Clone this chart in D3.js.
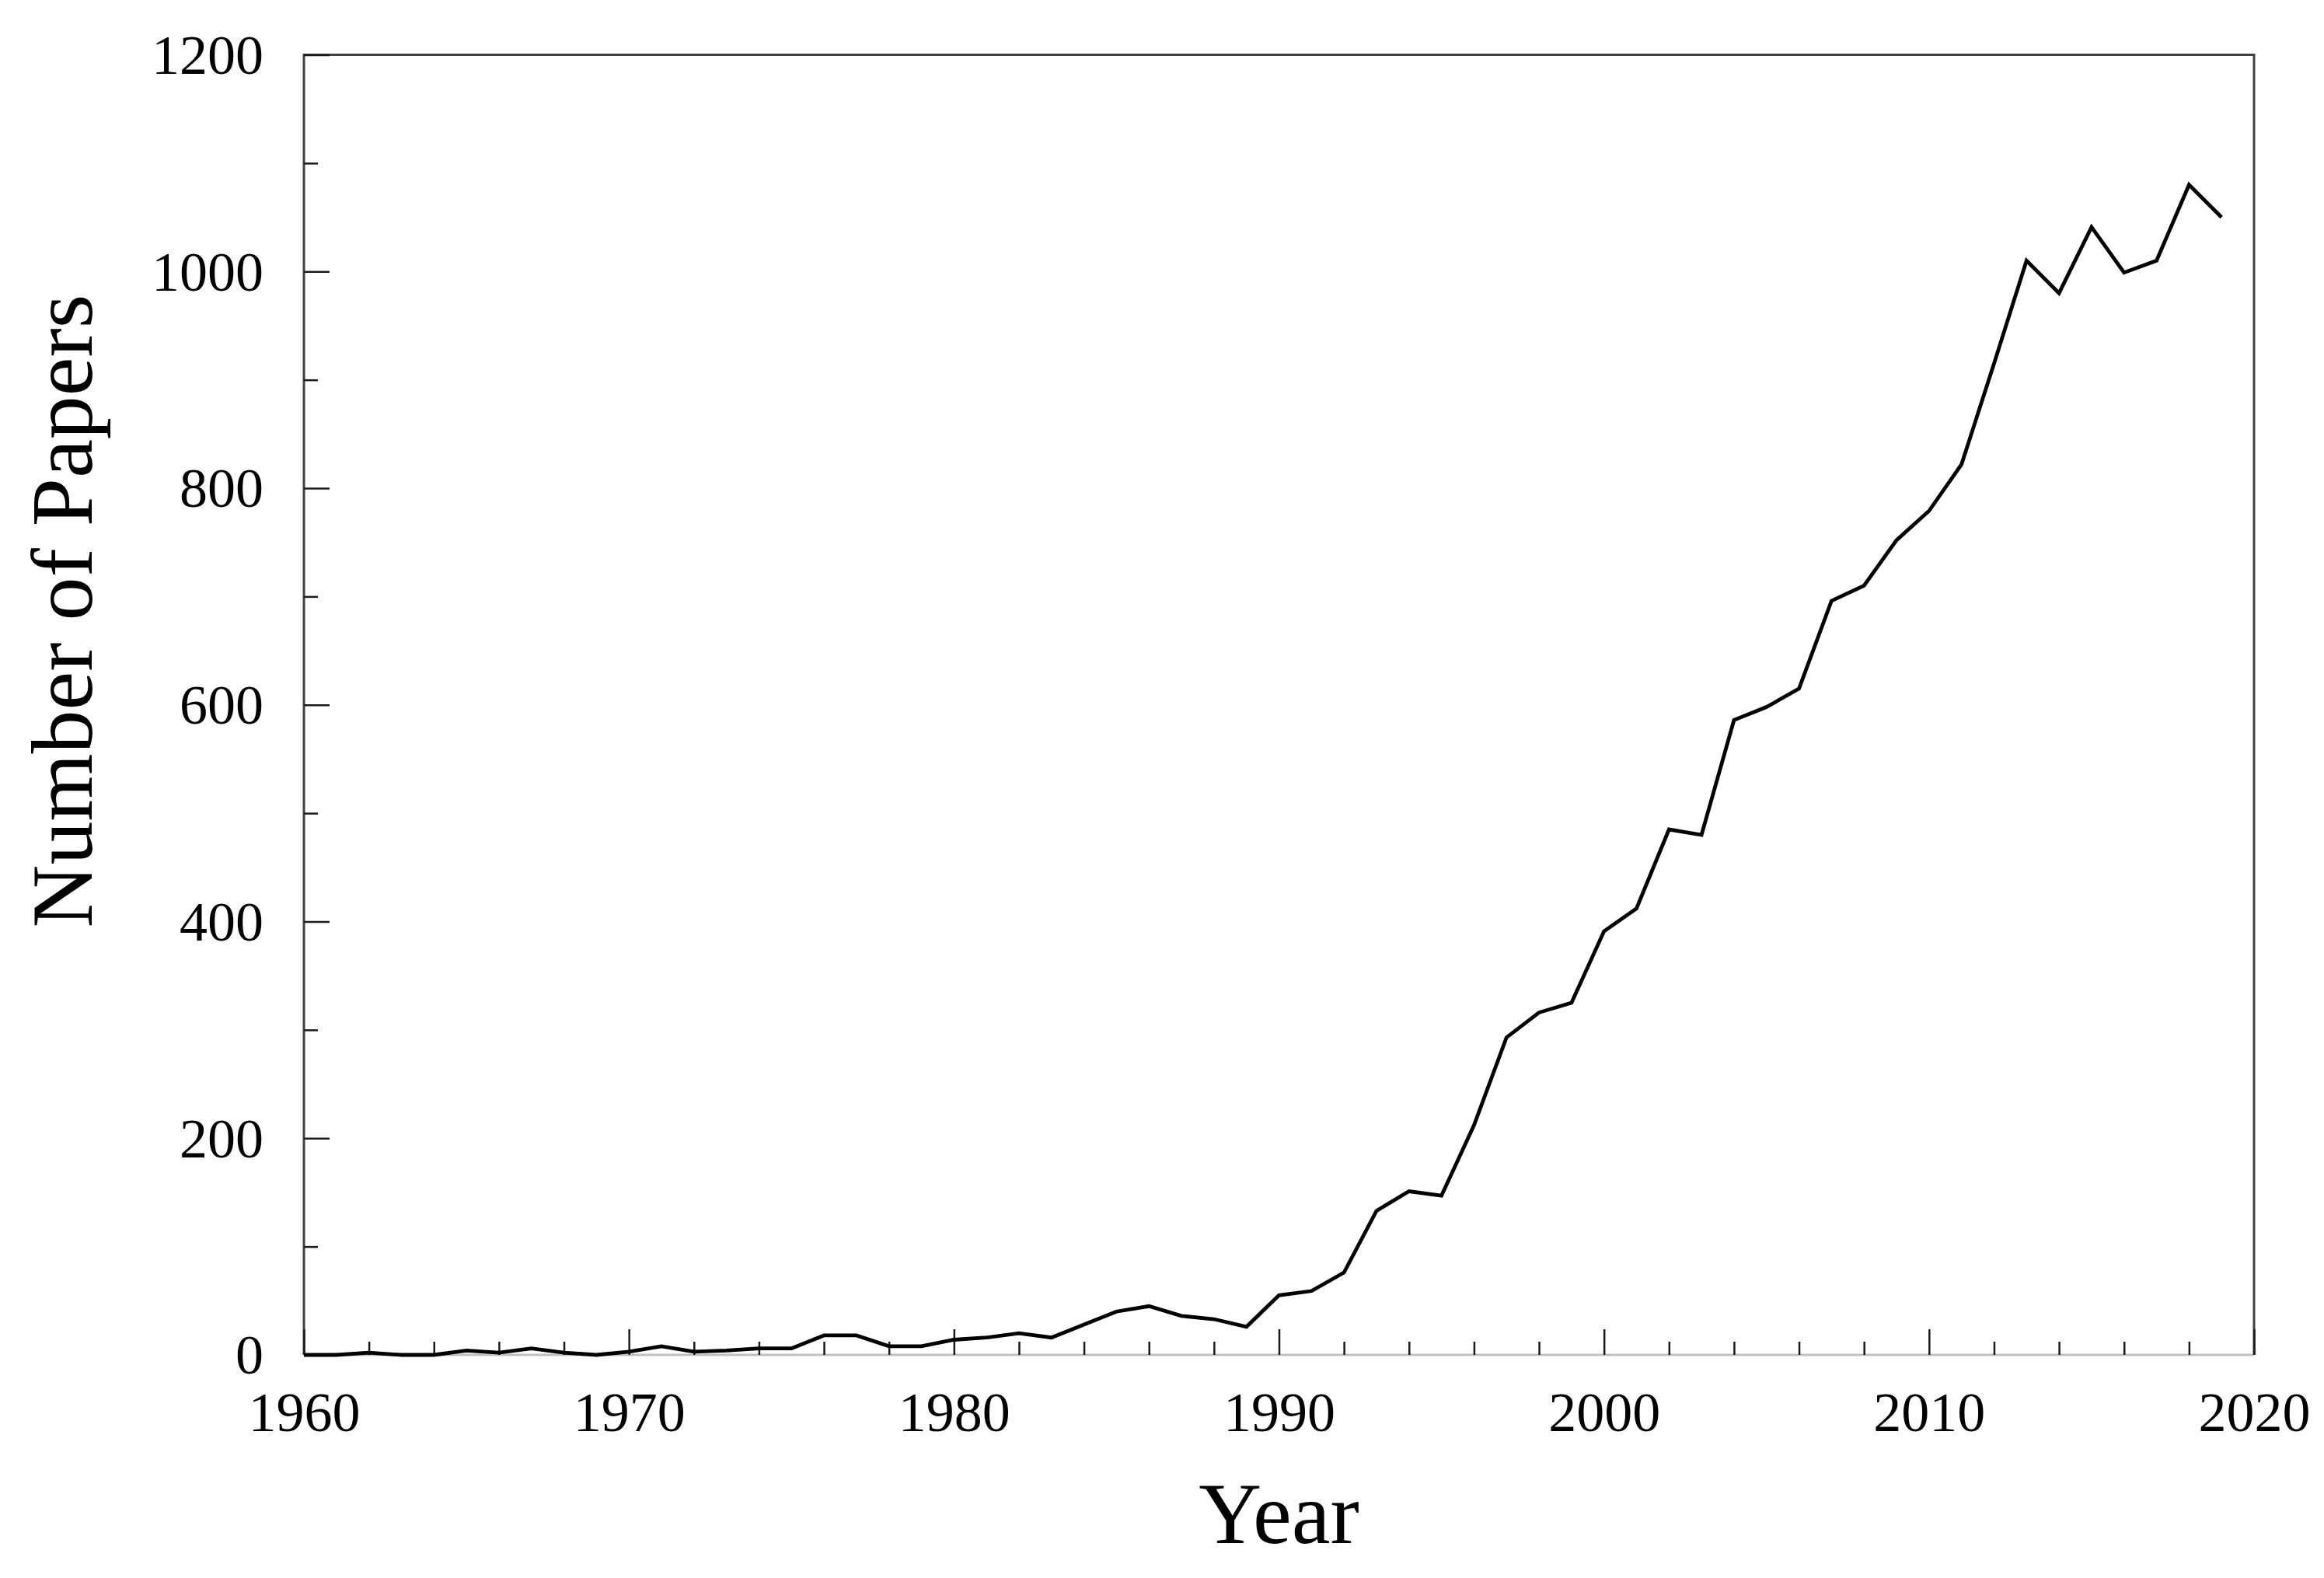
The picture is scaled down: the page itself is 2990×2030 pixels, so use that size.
<!DOCTYPE html>
<html>
<head>
<meta charset="utf-8">
<script src="https://cdn.jsdelivr.net/npm/d3@7"></script>
<style>
  html, body { margin: 0; padding: 0; background: #ffffff; }
  svg { display: block; }
</style>
</head>
<body>
<svg id="chart" width="2990" height="2030"></svg>
<script>
// ---- data ----
const years = [1960,1961,1962,1963,1964,1965,1966,1967,1968,1969,
               1970,1971,1972,1973,1974,1975,1976,1977,1978,1979,
               1980,1981,1982,1983,1984,1985,1986,1987,1988,1989,
               1990,1991,1992,1993,1994,1995,1996,1997,1998,1999,
               2000,2001,2002,2003,2004,2005,2006,2007,2008,2009,
               2010,2011,2012,2013,2014,2015,2016,2017,2018,2019];
const papers = [0,0,2,0,0,4,2,6,2,0,
                3,8,3,4,6,6,18,18,8,8,
                14,16,20,16,28,40,45,36,33,26,
                55,59,76,133,151,147,212,293,316,325,
                391,412,485,480,586,598,615,696,710,752,
                779,822,915,1010,980,1041,999,1010,1080,1050];
const xMajorTicks = [1960,1970,1980,1990,2000,2010,2020];
const xMinorTicks = [1962,1964,1966,1968,1972,1974,1976,1978,1982,1984,1986,1988,
                     1992,1994,1996,1998,2002,2004,2006,2008,2012,2014,2016,2018];
const yMajorTicks = [0,200,400,600,800,1000,1200];
const yMinorTicks = [100,300,500,700,900,1100];
const xTitle = "Year";
const yTitle = "Number of Papers";

// ---- layout ----
const L = 391, R = 2900, T = 70.5, B = 1743;
const FONT = "'Liberation Serif', 'Times New Roman', serif";

const svg = d3.select("#chart");
const x = d3.scaleLinear().domain([1960, 2020]).range([L, R]);
const y = d3.scaleLinear().domain([0, 1200]).range([B, T]);

// frame
svg.append("line").attr("x1", L).attr("x2", R).attr("y1", B).attr("y2", B)
  .attr("stroke", "#c0c0c0").attr("stroke-width", 3);
svg.append("path")
  .attr("d", `M${L},${B} L${L},${T} L${R},${T} L${R},${B}`)
  .attr("fill", "none").attr("stroke", "#404040").attr("stroke-width", 3);

// y axis major
const gy = svg.append("g").attr("transform", `translate(${L},0)`)
  .call(d3.axisLeft(y).tickValues(yMajorTicks).tickSizeInner(-33).tickSizeOuter(0)
        .tickPadding(52).tickFormat(d3.format("d")));
gy.select(".domain").remove();
gy.selectAll(".tick line").attr("stroke", "#1a1a1a").attr("stroke-width", 2.5);
gy.selectAll(".tick text").attr("font-family", FONT).attr("font-size", 72)
  .attr("fill", "#000").attr("dy", "0.33em");

// y axis minor
const gym = svg.append("g").attr("transform", `translate(${L},0)`)
  .call(d3.axisLeft(y).tickValues(yMinorTicks).tickSizeInner(-18).tickSizeOuter(0).tickFormat(""));
gym.select(".domain").remove();
gym.selectAll(".tick line").attr("stroke", "#1a1a1a").attr("stroke-width", 2.5);

// x axis major
const gx = svg.append("g").attr("transform", `translate(0,${B})`)
  .call(d3.axisBottom(x).tickValues(xMajorTicks).tickSizeInner(-33).tickSizeOuter(0)
        .tickPadding(0).tickFormat(d3.format("d")));
gx.select(".domain").remove();
gx.selectAll(".tick line").attr("stroke", "#1a1a1a").attr("stroke-width", 2.5);
gx.selectAll(".tick text").attr("font-family", FONT).attr("font-size", 72)
  .attr("fill", "#000").attr("y", 98).attr("dy", 0);

// x axis minor
const gxm = svg.append("g").attr("transform", `translate(0,${B})`)
  .call(d3.axisBottom(x).tickValues(xMinorTicks).tickSizeInner(-17).tickSizeOuter(0).tickFormat(""));
gxm.select(".domain").remove();
gxm.selectAll(".tick line").attr("stroke", "#1a1a1a").attr("stroke-width", 2.5);

// data line
const data = years.map((yr, i) => ({ year: yr, value: papers[i] }));
const line = d3.line().x(d => x(d.year)).y(d => y(d.value));
svg.append("path").datum(data)
  .attr("d", line)
  .attr("fill", "none")
  .attr("stroke", "#000")
  .attr("stroke-width", 4.8)
  .attr("stroke-linejoin", "miter");

// titles
svg.append("text")
  .attr("x", (L + R) / 2).attr("y", 1985)
  .attr("text-anchor", "middle")
  .attr("font-family", FONT).attr("font-size", 112).attr("fill", "#000")
  .text(xTitle);

svg.append("text")
  .attr("transform", `translate(118,786) rotate(-90)`)
  .attr("text-anchor", "middle")
  .attr("font-family", FONT).attr("font-size", 112).attr("fill", "#000")
  .text(yTitle);
</script>
</body>
</html>
